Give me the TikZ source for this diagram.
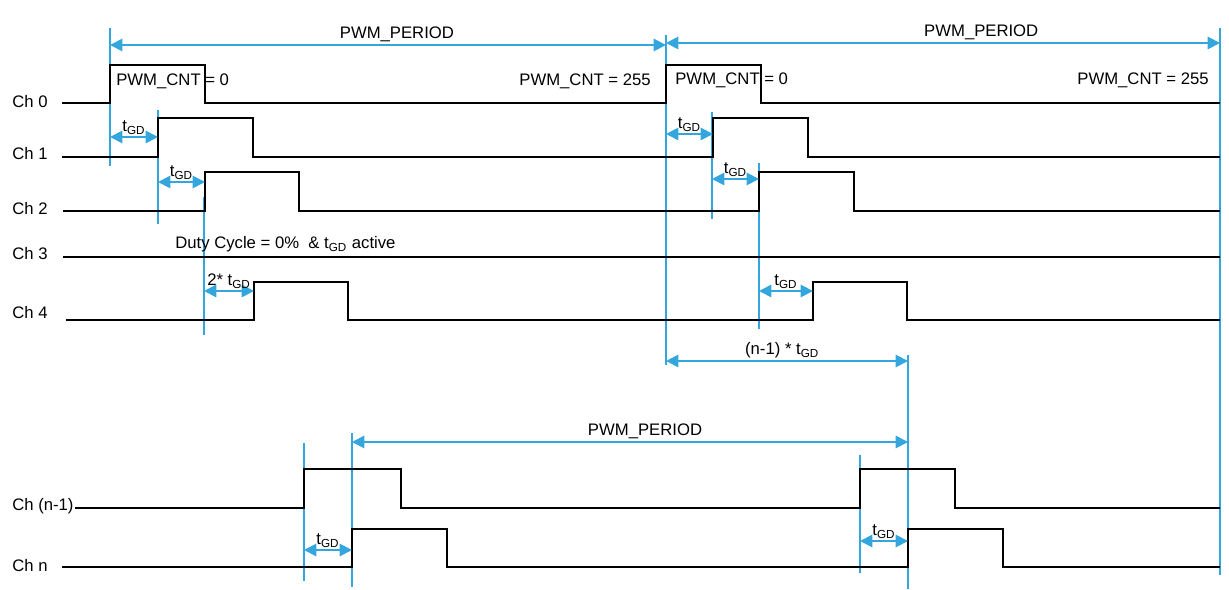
\documentclass[tikz,border=0pt]{standalone}
\usepackage{fontspec}
\setmainfont{Liberation Sans}
\usetikzlibrary{arrows.meta}

\definecolor{markblue}{RGB}{52,166,222}
\newcommand{\tgd}{t\textsubscript{GD}}

\begin{document}
\begin{tikzpicture}[
    x=0.02cm, y=-0.02cm,
    font=\fontsize{9.5}{11}\selectfont,
    signal/.style={black, line width=0.7pt},
    marker/.style={markblue, line width=0.6pt},
    dim/.style={markblue, line width=1.1pt, {Triangle[length=7pt,width=7pt]}-{Triangle[length=7pt,width=7pt]}},
    chlabel/.style={anchor=west, inner sep=0pt},
    cnt/.style={inner sep=0pt},
    dimlabel/.style={above, inner sep=1pt, text=black}
]
\useasboundingbox (0,0) rectangle (1229,590);

% X positions
\def\xlab{12}
\def\xend{1220}

% ---------- Channel labels ----------
\node[chlabel] (lch0) at (\xlab,102) {Ch 0};
\node[chlabel] (lch1) at (\xlab,154) {Ch 1};
\node[chlabel] (lch2) at (\xlab,209) {Ch 2};
\node[chlabel] (lch3) at (\xlab,254) {Ch 3};
\node[chlabel] (lch4) at (\xlab,313) {Ch 4};
\node[chlabel] (lchm) at (\xlab,506) {Ch (n-1)};
\node[chlabel] (lchn) at (\xlab,566) {Ch n};

% ---------- Markers ----------
\foreach \n/\x/\ya/\yb in {a/110/28/166, b/158/110/224, c/204/197/335,
    d/666/35/365, e/712/112/219, f/759/163/329, g/1220/28/575,
    h/304/443/581, i/352/433/587, j/860/455/573, k/908/355/589}
{
    \coordinate (m\n t) at (\x,\ya);
    \coordinate (m\n b) at (\x,\yb);
    \draw[marker] (m\n t) -- (m\n b);
}

% ---------- Signals ----------
% low / high / start / rise / fall / rise / fall
\foreach \lo/\hi/\xs/\ra/\fa/\rb/\fb in {103/65/62/110/205/666/761,
    157/118/62/158/253/713/808, 211/172/63/205/299/759/854,
    320/282/66/254/348/813/907, 508/469/75/304/401/860/955,
    567/529/62/352/447/908/1003}
    \draw[signal] (\xs,\lo) -- (\ra,\lo) -- (\ra,\hi) -- (\fa,\hi) -- (\fa,\lo)
        -- (\rb,\lo) -- (\rb,\hi) -- (\fb,\hi) -- (\fb,\lo) -- (\xend,\lo);
\draw[signal] (63,257) -- (\xend,257);

% ---------- Counter texts ----------
\node[cnt, anchor=west] (cnt0a) at (116,81) {PWM\_CNT = 0};
\node[cnt, anchor=east] (cnt255a) at (651,81) {PWM\_CNT = 255};
\node[cnt, anchor=west] (cnt0b) at (675,80) {PWM\_CNT = 0};
\node[cnt, anchor=east] (cnt255b) at (1209,80) {PWM\_CNT = 255};
\node[cnt, anchor=west] (duty) at (175,244) {Duty Cycle = 0\%~ \& \tgd{} active};

% ---------- Dimensions ----------
\foreach \n/\xa/\xb/\y/\p/\txt in {p1/110/666/45/0.516/PWM\_PERIOD,
    p2/666/1220/43/0.569/PWM\_PERIOD, p3/352/908/442/0.527/PWM\_PERIOD,
    dn/666/908/361/0.48/(n-1) * \tgd,
    g1/110/158/137/0.5/\tgd, g2/158/205/182/0.5/\tgd, g3/204/254/291/0.5/2* \tgd,
    g4/666/713/134/0.5/\tgd, g5/712/759/179/0.5/\tgd, g6/759/813/291/0.5/\tgd,
    g7/304/352/550/0.5/\tgd, g8/860/908/541/0.5/\tgd}
{
    \coordinate (\n a) at (\xa,\y);
    \coordinate (\n b) at (\xb,\y);
    \draw[dim] (\n a) -- node[dimlabel, pos=\p] {\txt} (\n b);
}

\end{tikzpicture}
\end{document}
